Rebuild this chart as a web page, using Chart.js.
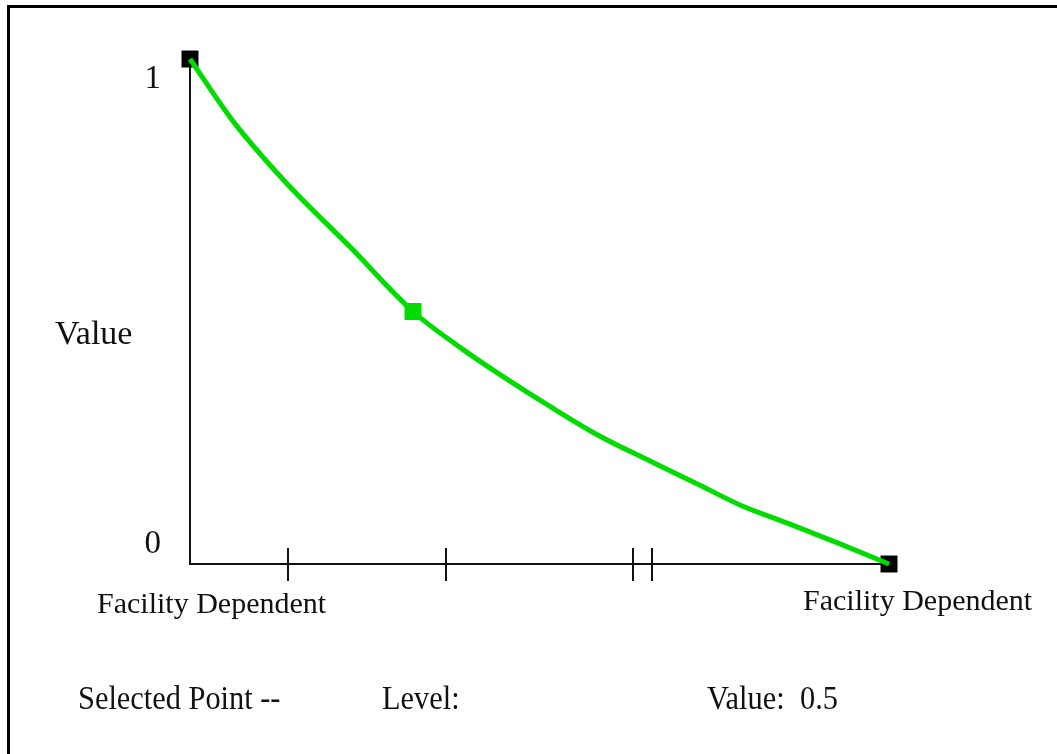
<!DOCTYPE html>
<html>
<head>
<meta charset="utf-8">
<script src="https://cdn.jsdelivr.net/npm/chart.js@4.4.0/dist/chart.umd.min.js"></script>
<style>
    html, body { margin: 0; padding: 0; background: #fff; }
    #wrap { position: relative; width: 1057px; height: 754px; overflow: hidden; font-family: "Liberation Serif", "Times New Roman", serif; color: #111; }
    #frame { position: absolute; left: 7px; top: 5px; width: 1200px; height: 900px; border-top: 3px solid #000; border-left: 3px solid #000; }
    #chart { position: absolute; left: 0; top: 0; }
    .lbl { position: absolute; line-height: 1; white-space: pre; }
    .status { transform-origin: left bottom; transform: scale(0.98, 1.12); }
</style>
</head>
<body>
<div id="wrap">
    <div id="frame"></div>
    <canvas id="chart" width="1057" height="754"></canvas>
    <div class="lbl" style="left:55px; top:316px; font-size:34px;">Value</div>
    <div class="lbl" style="left:97px; top:588px; font-size:30px;">Facility Dependent</div>
    <div class="lbl" style="left:803px; top:585px; font-size:30px;">Facility Dependent</div>
    <div class="lbl status" style="left:78px; top:684px; font-size:31px;">Selected Point --</div>
    <div class="lbl status" style="left:382px; top:684px; font-size:31px;">Level:</div>
    <div class="lbl status" style="left:707px; top:684px; font-size:31px;">Value:</div>
    <div class="lbl status" style="left:800px; top:684px; font-size:31px;">0.5</div>
</div>
<script>
// curve samples (x: level fraction, y: value)
const curveX = [0, 0.0615, 0.1388, 0.2289, 0.319, 0.3863, 0.4435, 0.515, 0.5866, 0.6581, 0.7296, 0.7868, 0.8584, 0.93, 1];
const curveY = [1, 0.877, 0.753, 0.628, 0.5, 0.429, 0.375, 0.312, 0.253, 0.204, 0.156, 0.117, 0.079, 0.04, 0];

// control points on the curve
const markerX = [0, 0.319, 1];
const markerY = [1, 0.5, 0];
const markerColors = ['#000000', '#00dc00', '#000000'];

// tick marks along the level axis, and value axis labels
const levelTicks = [0.14, 0.366, 0.634, 0.661];
const valueTicks = [0, 1];
const valueTickLabels = ['0', '1'];

const GREEN = '#00dc00';

const toPoints = (xs, ys) => xs.map((x, i) => ({ x: x, y: ys[i] }));

// draws the crossing tick marks and the 0 / 1 labels
const axisExtras = {
    id: 'axisExtras',
    afterDraw(chart) {
        const ctx = chart.ctx;
        const xs = chart.scales.x;
        const ys = chart.scales.y;
        const base = ys.getPixelForValue(0);
        ctx.save();
        ctx.strokeStyle = '#111';
        ctx.lineWidth = 2;
        levelTicks.forEach(v => {
            const px = Math.round(xs.getPixelForValue(v));
            ctx.beginPath();
            ctx.moveTo(px, base - 16);
            ctx.lineTo(px, base + 17);
            ctx.stroke();
        });
        ctx.fillStyle = '#111';
        ctx.font = '33px "Liberation Serif", serif';
        ctx.textAlign = 'right';
        ctx.textBaseline = 'middle';
        valueTicks.forEach((v, i) => {
            const py = ys.getPixelForValue(v);
            const shift = v > 0.5 ? 20 : -20;
            ctx.fillText(valueTickLabels[i], xs.left - 29, py + shift);
        });
        ctx.restore();
    }
};

new Chart(document.getElementById('chart'), {
    type: 'scatter',
    data: {
        datasets: [
            {
                data: toPoints(curveX, curveY),
                showLine: true,
                borderColor: GREEN,
                borderWidth: 5,
                cubicInterpolationMode: 'monotone',
                pointRadius: 0,
                clip: false
            },
            {
                data: toPoints(markerX, markerY),
                showLine: false,
                pointStyle: 'rect',
                pointRadius: 12,
                pointBackgroundColor: markerColors,
                pointBorderWidth: 0,
                clip: false
            }
        ]
    },
    options: {
        responsive: false,
        animation: false,
        events: [],
        layout: { padding: { left: 190, top: 59, right: 168, bottom: 190 } },
        plugins: { legend: { display: false }, tooltip: { enabled: false } },
        scales: {
            x: {
                type: 'linear', min: 0, max: 1,
                grid: { display: false, drawTicks: false },
                ticks: { display: false },
                border: { display: true, color: '#111', width: 2 }
            },
            y: {
                type: 'linear', min: 0, max: 1,
                grid: { display: false, drawTicks: false },
                ticks: { display: false },
                border: { display: true, color: '#111', width: 2 }
            }
        }
    },
    plugins: [axisExtras]
});
</script>
</body>
</html>
